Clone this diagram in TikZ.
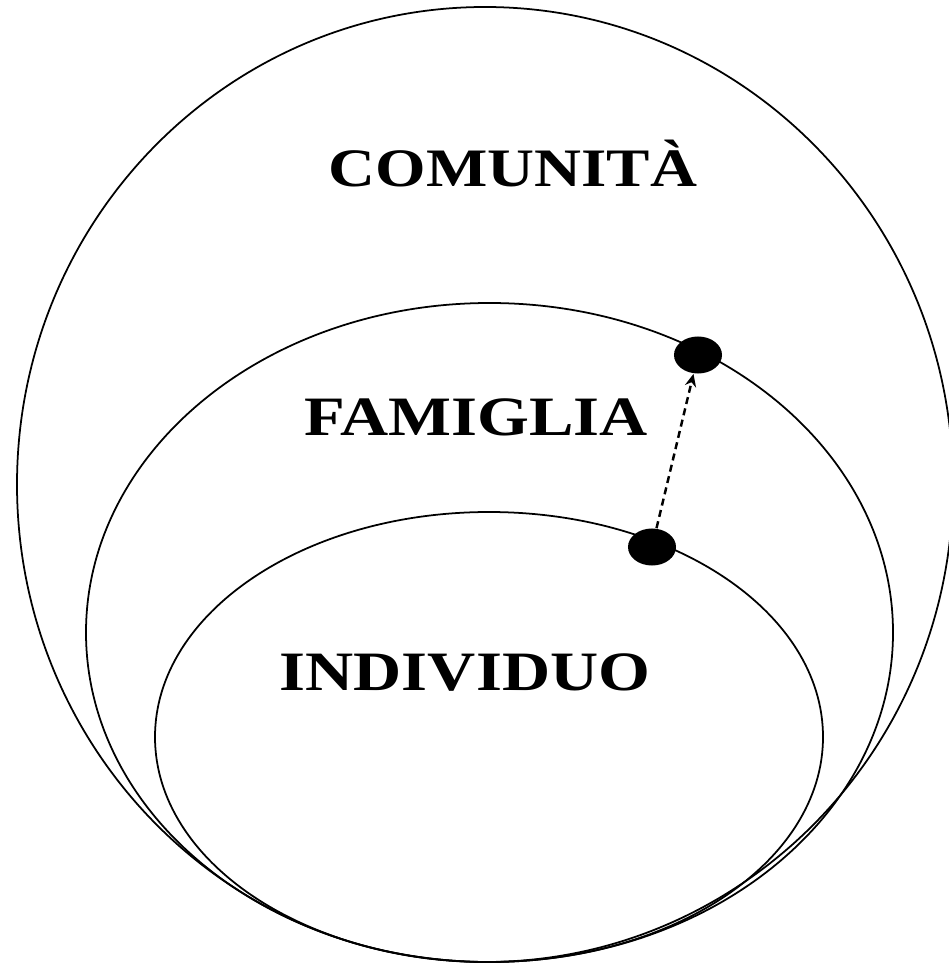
\documentclass[tikz,border=0pt]{standalone}
\usepackage{fontspec}
\setmainfont{Liberation Serif}
\newfontfamily\widefont[FakeStretch=1.2]{Liberation Serif}
\usetikzlibrary{arrows.meta,shapes.geometric}

\begin{document}
\begin{tikzpicture}[x=0.01cm, y=-0.01cm,
    ring/.style={line width=0.5pt},
    point/.style={ellipse, fill=black, inner sep=0pt, minimum width=0.48cm, minimum height=0.37cm},
    label/.style={anchor=base, inner sep=0pt, font=\widefont\bfseries}]
    \useasboundingbox (0,0) rectangle (949,964);
    % Rings
    \draw[ring] (485,484.5) ellipse [x radius=468, y radius=477.5];
    \draw[ring] (489.5,632.5) ellipse [x radius=403.5, y radius=329.5];
    \draw[ring] (489,737) ellipse [x radius=334, y radius=225];
    % Names of the rings
    \node[label, font=\widefont\bfseries\fontsize{15.4}{18}\selectfont] (comunita) at (513,187) {COMUNITÀ};
    \node[label, font=\widefont\bfseries\fontsize{15.8}{18}\selectfont] (famiglia) at (476,435) {FAMIGLIA};
    \node[label, font=\widefont\bfseries\fontsize{15.8}{18}\selectfont] (individuo) at (465,690) {INDIVIDUO};
    % Points on the rings
    \node[point] (pin) at (652,547) {};
    \node[point] (pfam) at (698,355) {};
    % Step up
    \draw[line width=0.7pt, dash pattern=on 2pt off 1.3pt, -{Stealth[length=3.6pt, width=3.2pt]}] (pin) -- (pfam);
\end{tikzpicture}
\end{document}
